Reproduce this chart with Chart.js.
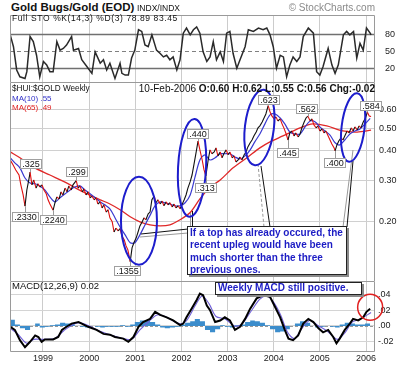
<!DOCTYPE html>
<html><head><meta charset="utf-8">
<script src="https://cdn.jsdelivr.net/npm/chart.js@4.4.1/dist/chart.umd.min.js"></script>
<style>
html,body{margin:0;padding:0;background:#fff;}
#wrap{position:relative;width:400px;height:365px;overflow:hidden;font-family:"Liberation Sans",Arial,sans-serif;}
canvas{position:absolute;left:0;}
.t{position:absolute;white-space:nowrap;line-height:1;color:#111;}
.box{position:absolute;box-sizing:border-box;background:#fff;border:1px solid #222;box-shadow:2px 2px 0 #8a8a8a;color:#1c1cc4;font-weight:bold;font-size:10px;padding-left:2px;white-space:nowrap;}
</style></head><body>
<div id="wrap">
<canvas id="sto" width="400" height="68" style="top:15px"></canvas>
<canvas id="main" width="400" height="199" style="top:83px"></canvas>
<canvas id="macd" width="400" height="83" style="top:282px"></canvas>

<div class="t" style="left:11px;top:1.8px;font-size:11.5px;font-weight:bold;">Gold Bugs/Gold (EOD)</div>
<div class="t" style="left:137px;top:4.3px;font-size:8.5px;">INDX/INDX</div>
<div class="t" style="right:25px;top:2.7px;font-size:10px;color:#8a8a8a;">© StockCharts.com</div>
<div class="t" style="left:12px;top:13.5px;font-size:8.5px;letter-spacing:0.6px;">Full STO %K(14,3) %D(3) 78.89 83.45</div>
<div class="t" style="left:12px;top:85.4px;font-size:8.2px;">$HUI:$GOLD Weekly</div>
<div class="t" style="left:12px;top:94.7px;font-size:8px;color:#3030c8;">MA(10) .55</div>
<div class="t" style="left:12px;top:103.7px;font-size:8px;color:#e02020;">MA(65) .49</div>
<div class="t" style="right:25px;top:84px;font-size:10px;">10-Feb-2006 <b>O:0.60 H:0.62 L:0.55 C:0.56 Chg:-0.02</b></div>
<div class="t" style="left:12px;top:281px;font-size:9.5px;">MACD(12,26,9) 0.02</div>

<div class="box" style="left:187px;top:226px;width:160px;height:49px;line-height:12.3px;">If a top has already occured, the<br>recent upleg would have been<br>much shorter than the three<br>previous ones.</div>
<div class="box" style="left:215px;top:282px;width:147px;height:13px;line-height:10px;">Weekly MACD still positive.</div>
</div>
<script>
// ---------- DATA ----------
const yearTicks = [1999,2000,2001,2002,2003,2004,2005,2006];
const priceTicks = [0.2,0.3,0.4,0.5,0.6];
const stoTicks = [20,50,80];
const macdTicks = [-0.02,0,0.02,0.04];

const priceDates = [1998.29,1998.35,1998.41,1998.48,1998.52,1998.57,1998.61,1998.65,1998.70,1998.72,1998.76,1998.80,1998.85,1998.89,1998.93,1998.98,1999.02,1999.07,1999.11,1999.15,
1999.22,1999.26,1999.30,1999.35,1999.39,1999.43,1999.48,1999.52,1999.56,1999.61,1999.65,1999.72,
1999.76,1999.80,1999.85,1999.89,1999.93,1999.98,2000.02,2000.06,2000.11,2000.15,2000.19,2000.24,2000.28,2000.32,2000.37,2000.41,2000.45,2000.50,2000.54,2000.58,2000.63,2000.67,2000.71,2000.76,2000.80,2000.84,2000.89,
2000.93,2000.97,2001.02,2001.06,2001.10,2001.15,2001.19,2001.23,2001.28,2001.32,2001.36,2001.41,2001.45,2001.49,2001.54,2001.58,2001.62,2001.67,2001.71,2001.75,2001.80,2001.84,2001.88,2001.93,2001.97,2002.01,2002.06,2002.10,2002.14,2002.19,2002.23,2002.27,2002.32,2002.36,2002.40,2002.45,2002.49,2002.53,
2002.58,2002.62,2002.66,2002.71,2002.75,2002.79,2002.84,2002.88,2002.92,2002.97,2003.01,2003.05,2003.10,2003.14,2003.18,2003.23,2003.27,2003.31,2003.36,2003.40,2003.44,2003.49,2003.53,2003.57,2003.62,2003.66,2003.70,2003.75,2003.79,2003.83,2003.88,
2003.92,2003.96,2004.01,2004.05,2004.09,2004.14,2004.18,2004.22,2004.27,2004.31,2004.35,2004.40,2004.44,2004.48,2004.53,2004.57,2004.61,2004.66,2004.70,2004.74,2004.79,2004.83,2004.87,2004.92,2004.96,2005.00,2005.05,2005.09,2005.13,2005.18,2005.22,2005.26,2005.31,2005.33,
2005.37,2005.41,2005.46,2005.50,2005.55,2005.59,2005.63,2005.68,2005.72,2005.76,2005.81,2005.85,2005.89,2005.94,2005.98,2006.03,2006.07,2006.11];
const priceValues = [0.366,0.349,0.332,0.316,0.287,0.260,0.233,0.273,0.307,0.325,0.287,0.301,0.278,0.290,0.281,0.287,0.273,0.263,0.248,0.238,
0.224,0.241,0.255,0.250,0.268,0.260,0.278,0.268,0.284,0.273,0.287,0.299,
0.278,0.284,0.268,0.276,0.260,0.268,0.253,0.257,0.248,0.253,0.238,0.243,0.229,0.236,0.220,0.225,0.208,0.200,0.181,0.188,0.183,0.187,0.174,0.168,0.158,0.152,0.1355,
0.155,0.163,0.171,0.181,0.192,0.200,0.208,0.204,0.216,0.220,0.248,0.257,0.241,0.248,0.238,0.245,0.234,0.243,0.236,0.241,0.231,0.238,0.229,0.234,0.227,0.236,0.248,0.260,0.278,0.296,0.316,0.349,0.396,0.440,0.404,0.366,0.332,0.313,
0.366,0.404,0.389,0.396,0.412,0.381,0.396,0.374,0.389,0.404,0.385,0.396,0.374,0.381,0.359,0.366,0.377,0.366,0.385,0.396,0.416,0.433,0.445,0.463,0.481,0.501,0.511,0.531,0.552,0.574,0.623,
0.586,0.563,0.547,0.558,0.536,0.547,0.521,0.501,0.472,0.445,0.477,0.486,0.463,0.477,0.458,0.472,0.501,0.531,0.552,0.562,0.536,0.547,0.516,0.501,0.511,0.486,0.496,0.477,0.486,0.463,0.445,0.428,0.412,0.400,
0.424,0.441,0.454,0.445,0.467,0.486,0.477,0.501,0.486,0.506,0.491,0.511,0.501,0.531,0.547,0.584,0.563,0.56];

const ma10Dates = [1998.29,1998.39,1998.50,1998.61,1998.72,1998.83,1998.93,1999.04,1999.15,1999.26,1999.37,1999.48,1999.59,1999.69,1999.80,1999.91,2000.02,2000.13,2000.24,2000.34,2000.45,2000.56,2000.67,2000.78,2000.89,2000.99,2001.10,2001.21,2001.32,2001.43,2001.54,2001.64,2001.75,2001.86,2001.97,2002.08,2002.19,2002.29,2002.40,2002.51,2002.62,2002.73,2002.84,2002.94,2003.05,2003.16,2003.27,2003.38,2003.49,2003.59,2003.70,2003.81,2003.92,2004.03,2004.14,2004.24,2004.35,2004.46,2004.57,2004.68,2004.79,2004.90,2005.00,2005.11,2005.22,2005.33,2005.43,2005.54,2005.65,2005.76,2005.87,2005.98,2006.09];
const ma10Values = [0.374,0.356,0.339,0.307,0.292,0.290,0.284,0.273,0.255,0.243,
0.253,0.263,0.273,0.281,0.284,0.273,0.263,0.253,0.243,0.236,
0.227,0.208,0.190,0.176,0.163,0.163,0.176,0.194,0.213,0.234,
0.243,0.241,0.238,0.234,0.234,0.241,0.260,0.307,0.366,0.385,
0.366,0.374,0.389,0.389,0.389,0.377,0.370,0.381,0.404,0.437,
0.472,0.521,0.569,0.574,0.552,0.521,0.481,0.472,0.472,0.506,
0.536,0.531,0.506,0.486,0.467,0.433,0.424,0.445,0.472,0.486,
0.496,0.521,0.55];

const ma65Dates = [1998.29,1998.50,1998.78,1999.15,1999.52,1999.74,1999.95,2000.24,2000.45,2000.67,2000.89,2001.10,2001.32,2001.54,2001.75,2001.97,2002.19,2002.40,2002.62,2002.84,2003.12,2003.42,2003.70,2003.92,2004.20,2004.57,2004.85,2005.15,2005.50,2005.81,2006.11];
const ma65Values = [0.396,0.374,0.342,0.316,0.292,0.276,0.263,0.248,0.238,0.225,0.210,0.200,0.194,0.192,0.194,0.204,0.219,0.250,0.280,0.301,0.339,0.374,0.412,0.437,0.463,0.501,0.521,0.511,0.486,0.481,0.49];

const stoDates = [1998.29,1998.36,1998.43,1998.50,1998.61,1998.65,1998.72,1998.79,1998.86,1998.93,
1999.01,1999.08,1999.15,1999.22,1999.30,1999.37,1999.44,1999.51,1999.62,1999.66,1999.77,1999.84,1999.95,
2000.06,2000.13,2000.24,2000.31,2000.38,2000.45,2000.56,2000.67,2000.71,2000.78,2000.85,2000.92,2000.99,
2001.07,2001.14,2001.21,2001.28,2001.36,2001.46,2001.54,2001.61,2001.68,2001.75,2001.82,2001.90,2001.97,
2002.04,2002.11,2002.19,2002.26,2002.33,2002.40,2002.47,2002.55,2002.62,2002.69,2002.76,2002.84,2002.91,2002.98,
2003.05,2003.12,2003.20,2003.27,2003.38,2003.45,2003.56,2003.67,2003.77,2003.85,2003.92,2003.99,
2004.06,2004.14,2004.21,2004.28,2004.35,2004.42,2004.50,2004.57,2004.64,2004.75,2004.86,2004.93,
2005.00,2005.07,2005.18,2005.26,2005.33,2005.40,2005.51,2005.58,2005.65,2005.73,2005.80,2005.87,2005.94,
2006.01,2006.09,2006.11];
const stoValues = [79,58,17,5,2,14,76,67,43,5,
32,26,14,14,67,52,55,61,76,52,55,35,23,
11,49,29,35,17,29,2,29,11,8,8,38,52,
88,85,61,58,79,52,46,40,43,35,40,17,35,
82,91,79,88,93,82,49,32,40,67,35,49,32,82,
85,46,20,35,58,88,85,91,88,91,79,58,
20,43,40,5,26,40,32,40,76,91,82,14,
8,23,55,26,11,26,79,85,79,85,38,64,52,
91,82,78.89];

const macdDates = [1998.29,1998.39,1998.50,1998.61,1998.72,1998.83,1998.90,1998.97,
1999.04,1999.22,1999.33,1999.41,1999.51,1999.62,1999.77,1999.84,1999.98,
2000.16,2000.31,2000.45,2000.56,2000.74,2000.85,2000.96,
2001.07,2001.17,2001.32,2001.43,2001.54,2001.68,2001.82,2001.97,
2002.04,2002.11,2002.22,2002.33,2002.40,2002.47,2002.55,2002.62,2002.73,2002.84,2002.94,
2003.05,2003.16,2003.27,2003.38,2003.49,2003.63,2003.77,2003.92,
2004.03,2004.14,2004.24,2004.32,2004.42,2004.53,2004.64,2004.75,2004.86,2004.97,
2005.07,2005.18,2005.29,2005.36,2005.43,2005.54,2005.65,2005.72,2005.83,2005.94,
2006.01,2006.09];
const macdValues = [-0.001,-0.005,-0.018,-0.027,-0.020,-0.012,-0.014,-0.020,
-0.017,-0.017,-0.014,-0.005,-0.001,0.003,0.005,0.003,-0.001,
-0.005,-0.010,-0.011,-0.014,-0.016,-0.020,-0.014,
-0.001,0.005,0.009,0.018,0.014,0.011,0.007,0.001,
0.003,0.011,0.022,0.033,0.041,0.039,0.026,0.020,0.005,0.007,0.011,
0.007,-0.005,-0.001,0.009,0.022,0.035,0.039,0.037,
0.024,0.011,-0.005,-0.016,-0.018,-0.012,0.003,0.009,0.005,-0.003,
-0.008,-0.005,-0.014,-0.022,-0.016,-0.005,0.003,0.009,0.007,0.011,
0.018,0.022];

const signalDates = [1998.29,1998.45,1998.65,1998.80,1999.00,1999.25,1999.45,1999.65,1999.80,2000.00,2000.25,2000.50,2000.75,2000.92,2001.10,2001.30,2001.47,2001.65,2001.95,2002.10,2002.30,2002.45,2002.60,2002.75,2002.95,2003.15,2003.30,2003.50,2003.70,2003.85,2004.00,2004.15,2004.30,2004.45,2004.60,2004.78,2004.95,2005.15,2005.38,2005.55,2005.70,2005.85,2006.11];
const signalValues = [-0.003,-0.010,-0.022,-0.017,-0.017,-0.016,-0.006,0.002,0.004,0.000,-0.007,-0.012,-0.016,-0.017,-0.005,0.006,0.014,0.012,0.003,0.006,0.026,0.038,0.028,0.012,0.009,0.000,0.002,0.018,0.034,0.038,0.030,0.014,-0.008,-0.016,-0.004,0.007,0.001,-0.006,-0.017,-0.008,0.005,0.008,0.017];

const histDates = ma10Dates;
const histValues = [0.008,0.002,-0.003,-0.005,0.000,0.003,-0.002,-0.001,0.001,0.002,
0.004,0.003,0.002,0.000,-0.001,-0.002,0.000,-0.001,-0.002,-0.001,
-0.001,-0.001,0.001,-0.001,0.002,0.005,0.007,0.007,0.005,0.002,
-0.002,-0.003,-0.002,-0.001,0.002,0.004,0.006,0.009,0.006,-0.005,
-0.008,-0.004,0.001,-0.001,-0.002,0.001,0.002,0.005,0.007,0.006,
0.004,0.001,-0.004,-0.008,-0.007,-0.004,0.000,0.003,0.006,0.004,
0.000,-0.002,-0.001,0.000,-0.001,-0.002,0.002,0.004,0.003,0.002,
0.002,0.003,0.003];

// ---------- ANNOTATION CONFIG ----------
const priceMarks = [
 {date:1998.72,value:0.325,text:'.325',dx:0.5,dy:-8.5},
 {date:1998.61,value:0.233,text:'.2330',dx:0.5,dy:10.5},
 {date:1999.22,value:0.224,text:'.2240',dx:0,dy:10},
 {date:1999.72,value:0.299,text:'.299',dx:0.7,dy:-8.5},
 {date:2000.89,value:0.1355,text:'.1355',dx:-3,dy:9.6},
 {date:2002.36,value:0.440,text:'.440',dx:0,dy:-7.5},
 {date:2002.53,value:0.313,text:'.313',dx:0,dy:12},
 {date:2003.88,value:0.623,text:'.623',dx:1,dy:-5.5},
 {date:2004.31,value:0.445,text:'.445',dx:0,dy:13},
 {date:2004.74,value:0.562,text:'.562',dx:-1,dy:-7.5},
 {date:2005.33,value:0.400,text:'.400',dx:0,dy:12.5},
 {date:2006.03,value:0.584,text:'.584',dx:4,dy:-6.5}
];
const ellipses = [
 {date:2001.08,value:0.2018,rx:18,ry:44,rot:0},
 {date:2002.23,value:0.339,rx:14,ry:49,rot:0.05},
 {date:2003.69,value:0.503,rx:14.5,ry:38,rot:0.12},
 {date:2005.72,value:0.503,rx:11.5,ry:34.5,rot:0.12}
];
const callouts = [ // canvas pixel coords in the price panel
 {c:'#111',d:[],p:[141,151,188,146]},{c:'#999',d:[],p:[140,154,188,150]},
 {c:'#111',d:[],p:[192.5,128,192.5,144]},{c:'#999',d:[],p:[190.5,130,190.5,144]},
 {c:'#999',d:[3,2],p:[258,81,264,144]},{c:'#111',d:[],p:[261,83,270,144]},
 {c:'#999',d:[],p:[353,67,343,144]},{c:'#111',d:[],p:[353,78,347,144]}
];

// ---------- HELPERS ----------
const FONT = '"Liberation Sans", Arial, sans-serif';
const X_MIN = 1998.285, X_MAX = 2006.195;
const xy = (d,v) => d.map((x,i)=>({x:x, y:v[i]}));
function xAxis(show){
  return {type:'linear',min:X_MIN,max:X_MAX,
    afterBuildTicks:s=>{s.ticks=yearTicks.map(v=>({value:v}));},
    grid:{color:'#cccccc',lineWidth:1,drawTicks:false},
    border:{display:false},
    ticks:{display:show,padding:1,autoSkip:false,maxRotation:0,color:'#222',font:{size:9,family:FONT},callback:v=>String(v)},
    afterFit:s=>{s.height=show?13:0;s.paddingLeft=0;s.paddingRight=0;}
  };
}
function yAxis(extra){
  return Object.assign({position:'right',border:{display:false},
    afterFit:s=>{s.width=25;s.paddingTop=0;s.paddingBottom=0;}}, extra);
}
function baseOpts(scales){
  return {responsive:false,animation:false,events:[],devicePixelRatio:1,
    layout:{padding:{left:10,right:0,top:0,bottom:0}},
    plugins:{legend:{display:false},tooltip:{enabled:false}},
    scales:scales};
}
function frame(ctx,a,top){
  ctx.save();ctx.strokeStyle='#9a9a9a';ctx.lineWidth=1;ctx.beginPath();
  if(top){ctx.moveTo(a.left+0.5,a.bottom-0.5);ctx.lineTo(a.left+0.5,a.top+0.5);ctx.lineTo(a.right-0.5,a.top+0.5);ctx.lineTo(a.right-0.5,a.bottom-0.5);ctx.lineTo(a.left+0.5,a.bottom-0.5);}
  else{ctx.moveTo(a.left+0.5,a.top);ctx.lineTo(a.left+0.5,a.bottom-0.5);ctx.lineTo(a.right-0.5,a.bottom-0.5);ctx.lineTo(a.right-0.5,a.top);}
  ctx.stroke();ctx.restore();
}

// ---------- STOCHASTIC ----------
const stoPlugin = {id:'stoP',
  beforeDatasetsDraw(ch){const {ctx,chartArea:a,scales:{y}}=ch;ctx.save();
    [[80,'#707070',1.6,[]],[20,'#707070',1.6,[]],[50,'#808080',1,[4,3]]].forEach(([v,c,w,d])=>{
      const py=Math.round(y.getPixelForValue(v))+0.5;ctx.strokeStyle=c;ctx.lineWidth=w;ctx.setLineDash(d);
      ctx.beginPath();ctx.moveTo(a.left,py);ctx.lineTo(a.right,py);ctx.stroke();});
    ctx.restore();},
  afterDraw(ch){frame(ch.ctx,ch.chartArea,true);}
};
new Chart(document.getElementById('sto'),{type:'line',
  data:{datasets:[{data:xy(stoDates,stoValues),borderColor:'#2a2a2a',borderWidth:1.5,pointRadius:0,tension:0}]},
  options:baseOpts({x:xAxis(false),y:yAxis({type:'linear',min:-6,max:114,
    afterBuildTicks:s=>{s.ticks=stoTicks.map(v=>({value:v}));},
    grid:{display:false},
    ticks:{padding:2,color:'#222',font:{size:9,family:FONT}}})}),
  plugins:[stoPlugin]});

// ---------- PRICE ----------
const mainPlugin = {id:'mainP',
  afterDatasetsDraw(ch){const {ctx,chartArea:a,scales:{x,y}}=ch;ctx.save();
    frame(ctx,a,false);
    ctx.lineWidth=1;
    callouts.forEach(l=>{ctx.strokeStyle=l.c;ctx.setLineDash(l.d);ctx.beginPath();ctx.moveTo(l.p[0],l.p[1]);ctx.lineTo(l.p[2],l.p[3]);ctx.stroke();});
    ctx.setLineDash([]);
    ctx.strokeStyle='#1d1dcc';ctx.lineWidth=2;
    ellipses.forEach(e=>{ctx.beginPath();ctx.ellipse(x.getPixelForValue(e.date),y.getPixelForValue(e.value),e.rx,e.ry,e.rot,0,Math.PI*2);ctx.stroke();});
    ctx.font='9px '+FONT;ctx.textAlign='center';ctx.textBaseline='middle';
    priceMarks.forEach(m=>{const px=x.getPixelForValue(m.date),py=y.getPixelForValue(m.value);
      const cx=px+m.dx,cy=py+m.dy,w=Math.round(ctx.measureText(m.text).width+4),h=10;
      const bx=Math.round(cx-w/2),by=Math.round(cy-h/2);
      ctx.strokeStyle='#999';ctx.lineWidth=1;ctx.beginPath();ctx.moveTo(Math.round(px)+0.5,py);ctx.lineTo(Math.round(px)+0.5,m.dy<0?by+h:by);ctx.stroke();
      ctx.fillStyle='#fff';ctx.fillRect(bx,by,w,h);ctx.strokeStyle='#a0a0a0';ctx.strokeRect(bx+0.5,by+0.5,w-1,h-1);
      ctx.fillStyle='#111';ctx.fillText(m.text,bx+w/2,by+h/2+0.5);});
    ctx.restore();}
};
new Chart(document.getElementById('main'),{type:'line',
  data:{datasets:[
    {data:xy(ma65Dates,ma65Values),borderColor:'#e02828',borderWidth:1.3,pointRadius:0,tension:0.3,order:3},
    {data:xy(ma10Dates,ma10Values),borderColor:'#3a3ad0',borderWidth:1.2,pointRadius:0,tension:0.3,order:2},
    {data:xy(priceDates,priceValues),borderColor:'#111',borderWidth:1.1,pointRadius:0,tension:0,order:1,
     segment:{borderColor:c=>c.p1.parsed.y<c.p0.parsed.y?'#e01010':'#111'}}
  ]},
  options:baseOpts({x:xAxis(false),y:yAxis({type:'logarithmic',min:0.111,max:0.777,
    afterBuildTicks:s=>{s.ticks=priceTicks.map(v=>({value:v}));},
    grid:{color:'#d0d0d0',drawTicks:false},
    ticks:{padding:4,color:'#222',font:{size:9,family:FONT},callback:v=>Number(v).toFixed(2)}})}),
  plugins:[mainPlugin]});

// ---------- MACD ----------
const macdPlugin = {id:'macdP',
  beforeDatasetsDraw(ch){const {ctx,chartArea:a,scales:{y}}=ch;ctx.save();
    const py=Math.round(y.getPixelForValue(0))+0.5;ctx.strokeStyle='#999';ctx.setLineDash([3,2]);
    ctx.beginPath();ctx.moveTo(a.left,py);ctx.lineTo(a.right,py);ctx.stroke();ctx.restore();},
  afterDatasetsDraw(ch){const {ctx,chartArea:a,scales:{x,y}}=ch;frame(ctx,a,false);
    ctx.save();ctx.strokeStyle='#e02020';ctx.lineWidth=1.5;ctx.beginPath();
    ctx.ellipse(x.getPixelForValue(2006.09),y.getPixelForValue(0.0237),12.5,13,0,0,Math.PI*2);ctx.stroke();ctx.restore();}
};
new Chart(document.getElementById('macd'),{type:'line',
  data:{datasets:[
    {data:xy(histDates,histValues),borderWidth:0,borderColor:'rgba(0,0,0,0)',backgroundColor:'#3c8dcc',fill:'origin',pointRadius:0,tension:0,stepped:true,order:3},
    {data:xy(signalDates,signalValues),borderColor:'#7060d8',borderWidth:1.1,pointRadius:0,tension:0.3,order:2},
    {data:xy(macdDates,macdValues),borderColor:'#000',borderWidth:2,pointRadius:0,tension:0,order:1}
  ]},
  options:baseOpts({x:xAxis(true),y:yAxis({type:'linear',min:-0.033,max:0.0558,
    afterBuildTicks:s=>{s.ticks=macdTicks.map(v=>({value:v}));},
    grid:{color:'#d4d4d4',drawTicks:false},
    ticks:{padding:3,color:'#222',font:{size:9,family:FONT},
      callback:v=>{v=Number(v);if(Math.abs(v)<1e-9)return '.00';return (v<0?'-':'')+Math.abs(v).toFixed(2).slice(1);}}})}),
  plugins:[macdPlugin]});
</script>
</body></html>
